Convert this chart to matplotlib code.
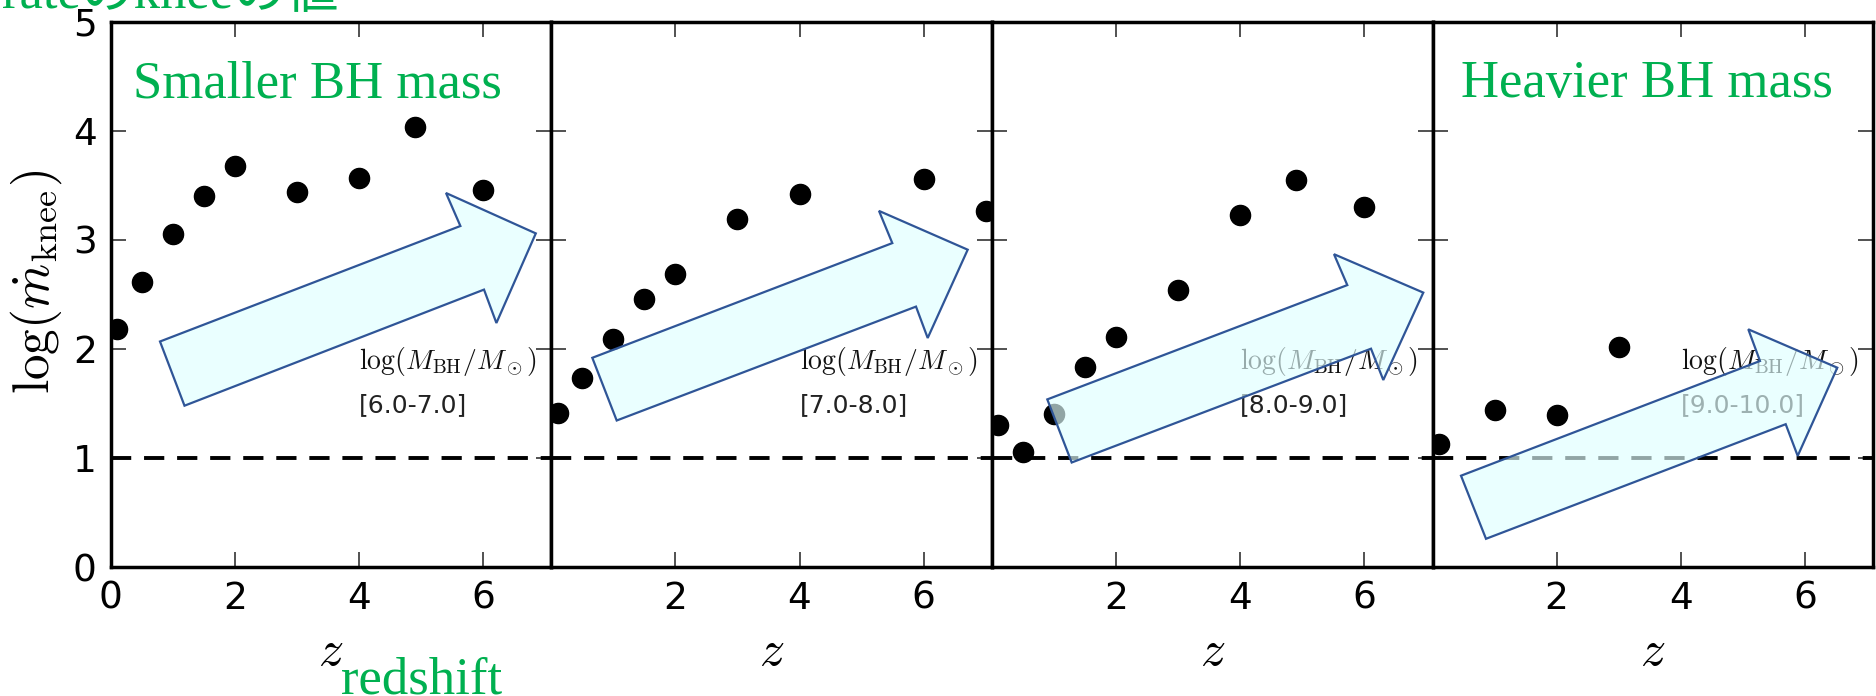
import matplotlib
matplotlib.use('Agg')
import matplotlib.pyplot as plt
from matplotlib.patches import Polygon

plt.rcParams['mathtext.fontset'] = 'cm'

# ---------------- data ----------------
z_p1 = [0.1, 0.5, 1.0, 1.5, 2.0, 3.0, 4.0, 4.9, 6.0]
knee_p1 = [2.18, 2.61, 3.05, 3.40, 3.68, 3.44, 3.57, 4.03, 3.46]
z_p2 = [0.1, 0.5, 1.0, 1.5, 2.0, 3.0, 4.0, 6.0, 7.0]
knee_p2 = [1.41, 1.73, 2.09, 2.46, 2.69, 3.19, 3.42, 3.56, 3.26]
z_p3 = [0.1, 0.5, 1.0, 1.5, 2.0, 3.0, 4.0, 4.9, 6.0]
knee_p3 = [1.30, 1.05, 1.40, 1.83, 2.11, 2.54, 3.23, 3.55, 3.30]
z_p4 = [0.1, 1.0, 2.0, 3.0]
knee_p4 = [1.13, 1.44, 1.39, 2.02]

mass_bins = ['[6.0-7.0]', '[7.0-8.0]', '[8.0-9.0]', '[9.0-10.0]']
xticks = [0, 2, 4, 6]
yticks = [0, 1, 2, 3, 4, 5]
threshold = 1.0

panels = [(z_p1, knee_p1), (z_p2, knee_p2), (z_p3, knee_p3), (z_p4, knee_p4)]

# ---------------- layout ----------------
FW, FH = 1876, 696
fig = plt.figure(figsize=(FW / 100, FH / 100), dpi=100)

L = 110.7 / FW
W = 440.6 / FW
B = (FH - 567) / FH
T = (FH - 21.5) / FH
H = T - B

GREEN = '#00B050'

axes = []
for i, (zz, kk) in enumerate(panels):
    ax = fig.add_axes([L + i * W, B, W, H])
    axes.append(ax)
    ax.plot(zz, kk, 'o', color='black', ms=14.5, zorder=3)
    ax.axhline(threshold, color='black', lw=2.8, ls=(0, (5.2, 3.3)), zorder=2)
    ax.set_xlim(0, 7.1)
    ax.set_ylim(0, 5)
    ax.set_xticks(xticks)
    ax.set_yticks(yticks)
    ax.tick_params(direction='in', length=11, width=1.2, top=True, right=True,
                   labelsize=27, pad=10, color='#333333')
    if i > 0:
        ax.set_yticklabels([])
        ax.set_xticklabels([''] + [str(t) for t in xticks[1:]])
    for s in ax.spines.values():
        s.set_linewidth(2.5)
    ax.text(4.0, 1.88, r'$\log(M_{\rm BH}/M_\odot)$', fontsize=20, va='center',
            color='#111111', zorder=4)
    ax.text(4.0, 1.48, mass_bins[i], fontsize=18, va='center', color='#222222',
            zorder=4)
    ax.set_xlabel(r'$z$', fontsize=36)
    ax.xaxis.set_label_coords(0.5, -0.11)

fig.text(36 / FW, 0.595, r'$\log(\dot{m}_{\rm knee})$', rotation=90,
         ha='center', va='center', fontsize=37)

# ---------------- green annotations ----------------
serif = ['Liberation Serif', 'Noto Sans CJK JP']
fig.text(133 / FW, 1 - 97 / FH, 'Smaller BH mass', fontsize=38, family=serif,
         color=GREEN, va='baseline')
fig.text(1461 / FW, 1 - 97 / FH, 'Heavier BH mass', fontsize=38, family=serif,
         color=GREEN, va='baseline')
fig.text(341 / FW, 1 - 693 / FH, 'redshift', fontsize=38, family=serif,
         color=GREEN, va='baseline')
fig.text(2 / FW, 1 - 8 / FH, 'rateのkneeの値', fontsize=38, family=serif,
         color=GREEN, va='baseline')

# ---------------- block arrows (pixel layout) ----------------
arrow_px = [
    [(184.5, 405.7), (160, 341.5), (460.4, 226), (446, 193), (535.8, 233.4), (496.4, 323), (484, 289.6)],
    [(616.7, 420.5), (592.3, 357.8), (892.3, 243.1), (879, 210.9), (967.7, 249.7), (927.7, 338), (916, 306.6)],
    [(1071.7, 462.5), (1047.3, 399.4), (1347.3, 285.1), (1334, 254.2), (1423.3, 292.6), (1383.3, 380), (1371, 348.7)],
    [(1486, 538.8), (1461, 475.7), (1760, 361), (1748.3, 329.3), (1837.3, 367.7), (1797.7, 455.9), (1785.7, 424.2)],
]
for verts in arrow_px:
    pts = [(x / FW, 1 - y / FH) for x, y in verts]
    poly = Polygon(pts, closed=True, transform=fig.transFigure,
                   facecolor=(0.88, 1.0, 1.0, 0.65), edgecolor='#2F5597',
                   linewidth=1.6, zorder=10)
    fig.add_artist(poly)

fig.savefig('out.png', dpi=100)
